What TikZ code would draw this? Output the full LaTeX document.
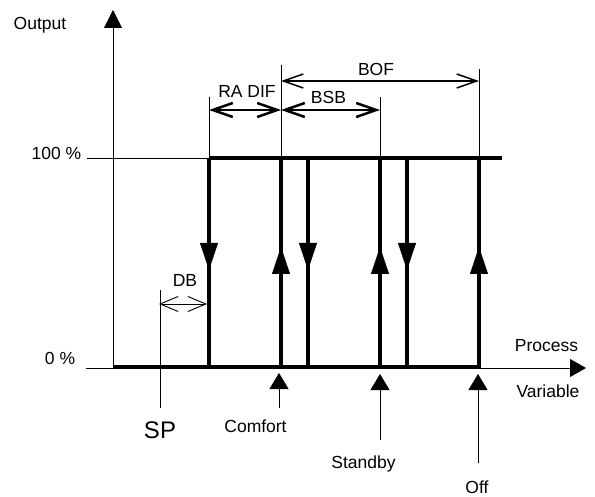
\documentclass[tikz,border=0pt]{standalone}
\usepackage{fontspec}
\setmainfont{Liberation Sans}
\usetikzlibrary{arrows.meta}

\begin{document}
\begin{tikzpicture}[x=1pt,y=-1pt,
  every node/.style={font=\fontsize{17.5}{20}\selectfont,inner sep=0pt,anchor=base},
  hair/.style={line width=0.9pt},
  heavy/.style={line width=3.6pt},
  dimline/.style={{Straight Barb[length=20pt,width=14pt]}-{Straight Barb[length=20pt,width=14pt]}},
  flow/.style={-{Triangle[length=27pt,width=18pt]}},
  marker/.style={hair,-{Triangle[length=16pt,width=19pt]}}]
\useasboundingbox (0,0) rectangle (595,497);

% axes
\coordinate (o) at (113,368);
\coordinate (ytip) at (113,10);
\coordinate (xtip) at (586,368);
\coordinate (lo) at (86,368);
\coordinate (hi) at (87,158);
\draw[hair,-{Triangle[length=18pt,width=18pt]}] (o) -- (ytip);
\draw[hair,-{Triangle[length=16pt,width=18pt]}] (lo) -- (xtip);
\draw[hair] (hi) -- (209,158);

% extension lines
\draw[hair] (209,97) -- (209,158);
\draw[hair] (281,65) -- (281,158);
\draw[hair] (380,97) -- (380,158);
\draw[hair] (479,69) -- (479,158);
\draw[hair] (160,290) -- (160,408);

% hysteresis
\draw[heavy] (113,367) -- (481,367);
\draw[heavy] (209,158) -- (502,158);
\foreach \x in {209,308,407} {
  \draw[heavy] (\x,158) -- (\x,367);
  \draw[flow] (\x,240) -- (\x,270);
}
\foreach \x in {281,380,479} {
  \draw[heavy] (\x,158) -- (\x,367);
  \draw[flow] (\x,278) -- (\x,247);
}

% dimensions
\draw[dimline,line width=2.5pt] (209,110) -- (281,110);
\draw[dimline,line width=2.5pt] (281,110) -- (380,110);
\draw[dimline,line width=1.5pt] (281,81) -- (479,81);
\draw[hair,{Straight Barb[length=18pt,width=15pt]}-{Straight Barb[length=18pt,width=15pt]}] (159,304) -- (207,304);

% set points
\draw[marker] (279,408) -- (279,373);
\draw[marker] (380,440) -- (380,374);
\draw[marker] (478,463) -- (478,374);

% labels
\node (output) at (40,30) {Output};
\node (full) at (56.5,160) {100 \%};
\node (zero) at (60,365) {0 \%};
\node (radif) at (247,98) {RA DIF};
\node (bof) at (376,76) {BOF};
\node (bsb) at (328.5,104) {BSB};
\node (db) at (185,287) {DB};
\node[font=\fontsize{24}{28}\selectfont] (sp) at (160,438) {SP};
\node (comfort) at (255.5,432) {Comfort};
\node (standby) at (363.5,468) {Standby};
\node (off) at (477,493) {Off};
\node (process) at (546.5,352) {Process};
\node (variable) at (548,397) {Variable};
\end{tikzpicture}
\end{document}
